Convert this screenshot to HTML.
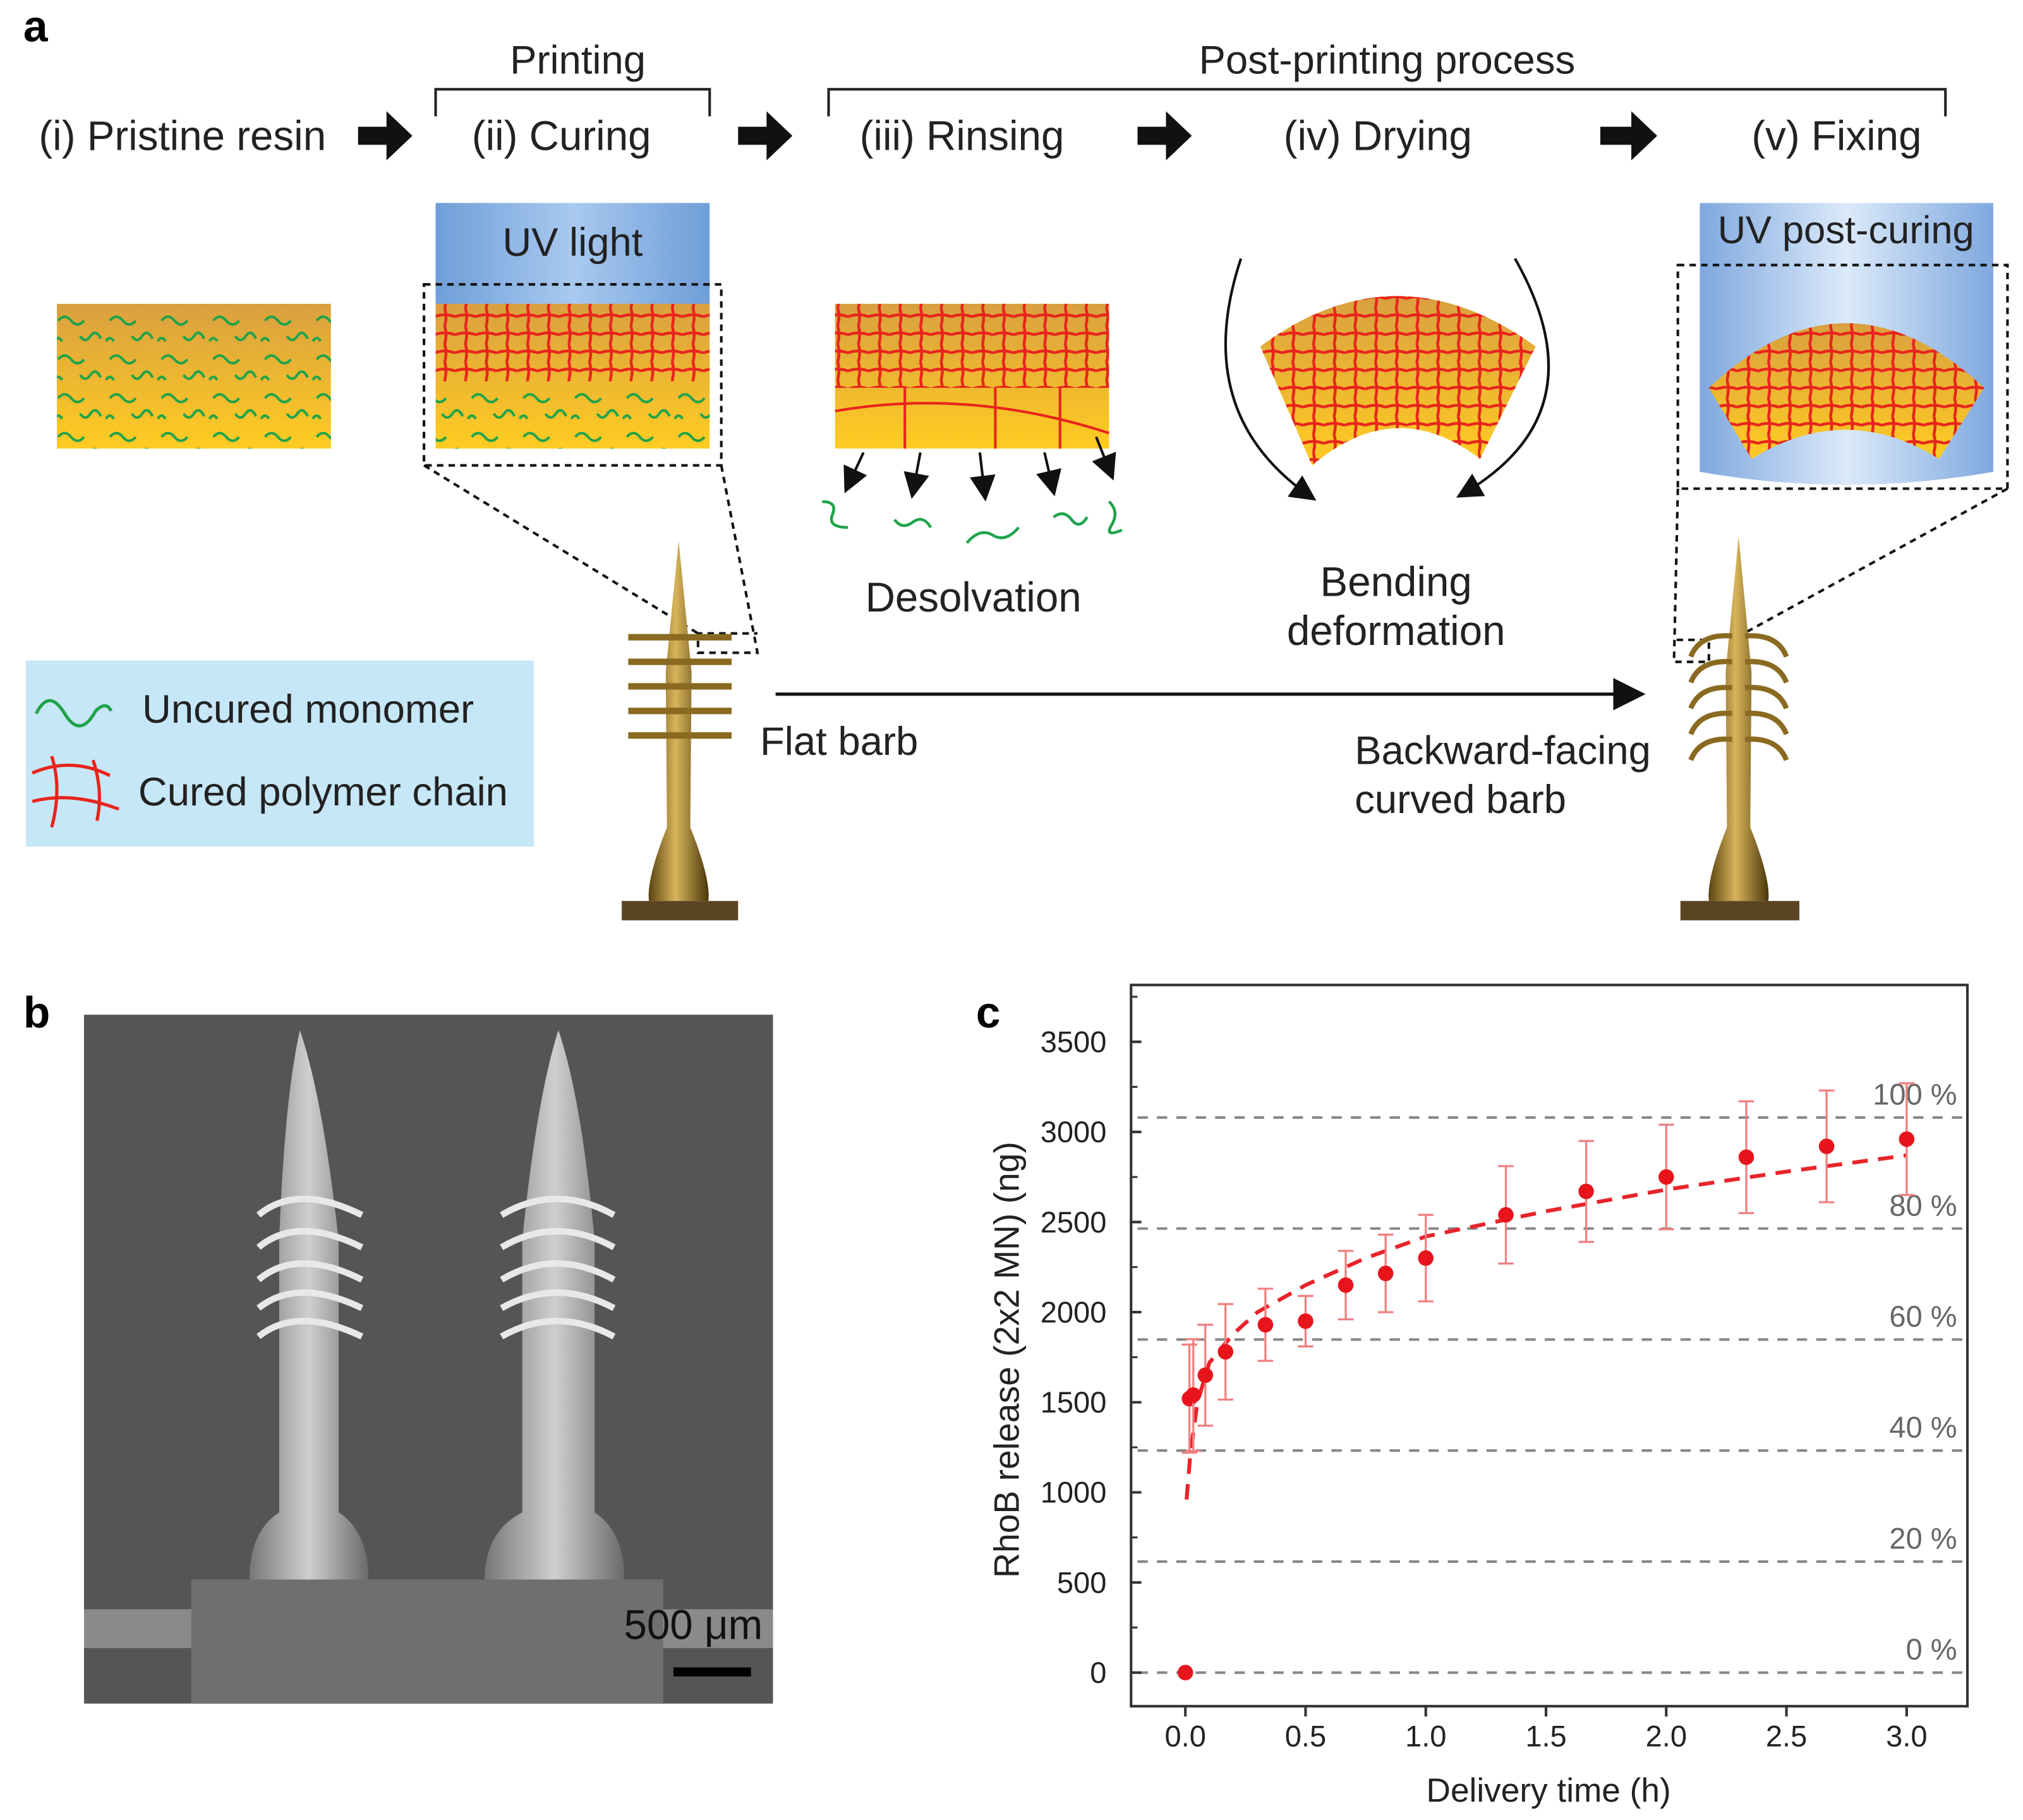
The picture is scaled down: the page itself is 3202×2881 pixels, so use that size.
<!DOCTYPE html>
<html><head><meta charset="utf-8">
<style>
html,body{margin:0;padding:0;background:#fff;}
svg{display:block;font-family:"Liberation Sans",Arial,sans-serif;}
</style></head>
<body>
<svg id="fig" width="3202" height="2881" viewBox="0 0 1565 1408" xmlns="http://www.w3.org/2000/svg">
<defs>
  <linearGradient id="resin" x1="0" y1="0" x2="0" y2="1"><stop offset="0" stop-color="#d9a040"/><stop offset="1" stop-color="#ffcc22"/></linearGradient>
  <linearGradient id="uv" x1="0" y1="0" x2="1" y2="0"><stop offset="0" stop-color="#6f9ed8"/><stop offset="0.5" stop-color="#a9c9ef"/><stop offset="1" stop-color="#6f9ed8"/></linearGradient>
  <linearGradient id="uv2" x1="0" y1="0" x2="1" y2="0"><stop offset="0" stop-color="#7fa8de"/><stop offset="0.5" stop-color="#dbeafa"/><stop offset="1" stop-color="#7fa8de"/></linearGradient>
  <linearGradient id="gold" x1="0" y1="0" x2="1" y2="0"><stop offset="0" stop-color="#5a4410"/><stop offset="0.45" stop-color="#d8b45a"/><stop offset="1" stop-color="#4a360a"/></linearGradient>
  <linearGradient id="sem" x1="0" y1="0" x2="1" y2="0"><stop offset="0" stop-color="#777"/><stop offset="0.5" stop-color="#cfcfcf"/><stop offset="1" stop-color="#6a6a6a"/></linearGradient>
  <pattern id="net" width="16" height="14" patternUnits="userSpaceOnUse"><path d="M0 7 Q8 4 16 7 M8 0 Q10 7 8 14" stroke="#e8241c" stroke-width="2.2" fill="none"/></pattern>
  <pattern id="mono" width="40" height="30" patternUnits="userSpaceOnUse"><path d="M5 8 q5 -6 10 0 t10 0 M22 20 q4 6 8 0 t8 2 M2 24 q3 -5 6 0" stroke="#1fa34a" stroke-width="2" fill="none"/></pattern>
  <marker id="ah" markerWidth="10" markerHeight="10" refX="8" refY="5" orient="auto"><path d="M0 0 L10 5 L0 10 z" fill="#111"/></marker>
</defs>

<!-- PANEL A -->
<g>
<text x="18" y="32" font-size="34" font-weight="bold">a</text>
<text x="447" y="57" font-size="31" text-anchor="middle" fill="#222">Printing</text>
<path d="M337 90 V69 H549 V90" stroke="#222" stroke-width="2" fill="none"/>
<text x="1073" y="57" font-size="31" text-anchor="middle" fill="#222">Post-printing process</text>
<path d="M641 90 V69 H1505 V90" stroke="#222" stroke-width="2" fill="none"/>
<g font-size="32" fill="#222">
<text x="30" y="116">(i) Pristine resin</text>
<text x="365" y="116">(ii) Curing</text>
<text x="665" y="116">(iii) Rinsing</text>
<text x="993" y="116">(iv) Drying</text>
<text x="1355" y="116">(v) Fixing</text>
</g>
<g fill="#111">
<path d="M277 98 h22 v-12 l20 19 l-20 19 v-12 h-22z"/>
<path d="M571 98 h22 v-12 l20 19 l-20 19 v-12 h-22z"/>
<path d="M880 98 h22 v-12 l20 19 l-20 19 v-12 h-22z"/>
<path d="M1238 98 h24 v-12 l20 19 l-20 19 v-12 h-24z"/>
</g>
<rect x="44" y="235" width="212" height="112" fill="url(#resin)"/>
<rect x="44" y="235" width="212" height="112" fill="url(#mono)"/>
<rect x="337" y="157" width="212" height="80" fill="url(#uv)"/>
<text x="443" y="198" font-size="31" text-anchor="middle" fill="#222">UV light</text>
<rect x="337" y="235" width="212" height="112" fill="url(#resin)"/>
<rect x="337" y="235" width="212" height="60" fill="url(#net)"/>
<rect x="337" y="295" width="212" height="52" fill="url(#mono)"/>
<rect x="328" y="220" width="230" height="140" fill="none" stroke="#111" stroke-width="2" stroke-dasharray="5 4"/>
<path d="M328 360 L540 490 M558 360 L586 505 L540 505 L540 490 L586 490" stroke="#111" stroke-width="2" stroke-dasharray="5 4" fill="none"/>
<rect x="646" y="235" width="212" height="112" fill="url(#resin)"/>
<rect x="646" y="235" width="212" height="65" fill="url(#net)"/>
<path d="M646 318 Q750 300 858 335 M700 300 V347 M770 300 V347 M820 300 V347" stroke="#e8241c" stroke-width="2" fill="none"/>
<g stroke="#111" stroke-width="2" marker-end="url(#ah)">
<line x1="668" y1="350" x2="655" y2="378"/><line x1="712" y1="350" x2="706" y2="382"/><line x1="758" y1="350" x2="762" y2="384"/><line x1="808" y1="350" x2="815" y2="380"/><line x1="848" y1="338" x2="860" y2="368"/>
</g>
<path d="M636 388 q12 0 8 10 t12 10 M692 402 q6 8 14 2 t14 4 M748 420 q10 -12 20 -6 t20 -6 M815 400 q8 -6 14 2 t12 -2 M858 388 q8 8 2 18 t8 4" stroke="#1fa34a" stroke-width="2.2" fill="none"/>
<text x="753" y="473" font-size="32" text-anchor="middle" fill="#222">Desolvation</text>
<path d="M975 268 Q1080 190 1188 268 L1145 355 Q1080 305 1015 360 Z" fill="url(#resin)"/>
<path d="M975 268 Q1080 190 1188 268 L1145 355 Q1080 305 1015 360 Z" fill="url(#net)"/>
<path d="M960 200 Q920 320 1015 385" stroke="#111" stroke-width="2" fill="none" marker-end="url(#ah)"/>
<path d="M1172 200 Q1240 320 1130 383" stroke="#111" stroke-width="2" fill="none" marker-end="url(#ah)"/>
<text x="1080" y="461" font-size="32" text-anchor="middle" fill="#222">Bending</text>
<text x="1080" y="499" font-size="32" text-anchor="middle" fill="#222">deformation</text>
<path d="M1315 157 H1542 V365 Q1428 385 1315 365 Z" fill="url(#uv2)"/>
<text x="1428" y="188" font-size="30" text-anchor="middle" fill="#222">UV post-curing</text>
<path d="M1322 300 Q1428 200 1535 300 L1500 355 Q1428 310 1355 355 Z" fill="url(#resin)"/>
<path d="M1322 300 Q1428 200 1535 300 L1500 355 Q1428 310 1355 355 Z" fill="url(#net)"/>
<rect x="1298" y="205" width="255" height="173" fill="none" stroke="#111" stroke-width="2" stroke-dasharray="5 4"/>
<path d="M1298 378 L1295 512 L1322 512 L1322 495 L1295 495 M1553 378 L1340 495" stroke="#111" stroke-width="2" stroke-dasharray="5 4" fill="none"/>
<rect x="20" y="511" width="393" height="144" fill="#c6e7f7"/>
<path d="M28 552 q10 -20 22 0 t24 -2 q8 -8 12 0" stroke="#1fa34a" stroke-width="2.5" fill="none"/>
<text x="110" y="559" font-size="31" fill="#222">Uncured monomer</text>
<path d="M25 598 Q55 585 85 600 M25 620 Q55 612 92 626 M40 585 Q48 610 40 640 M72 588 Q80 612 75 635" stroke="#e8241c" stroke-width="2.5" fill="none"/>
<text x="107" y="623" font-size="31" fill="#222">Cured polymer chain</text>
<g>
<path d="M525 418 L535 520 L534 640 Q550 680 548 697 L502 697 Q500 680 516 640 L515 520 Z" fill="url(#gold)"/>
<g stroke="#8a6a20" stroke-width="5">
<line x1="486" y1="493" x2="566" y2="493"/><line x1="486" y1="512" x2="566" y2="512"/><line x1="486" y1="531" x2="566" y2="531"/><line x1="486" y1="550" x2="566" y2="550"/><line x1="486" y1="569" x2="566" y2="569"/>
</g>
<rect x="481" y="697" width="90" height="15" fill="#5a4422"/>
</g>
<line x1="600" y1="537" x2="1268" y2="537" stroke="#111" stroke-width="2.5" marker-end="url(#ah)"/>
<text x="588" y="584" font-size="31" fill="#222">Flat barb</text>
<text x="1048" y="591" font-size="31" fill="#222">Backward-facing</text>
<text x="1048" y="629" font-size="31" fill="#222">curved barb</text>
<g>
<path d="M1345 415 L1355 520 L1354 640 Q1370 680 1368 697 L1322 697 Q1320 680 1336 640 L1335 520 Z" fill="url(#gold)"/>
<g stroke="#8a6a20" stroke-width="4" fill="none">
<path d="M1340 492 Q1315 490 1308 508 M1350 492 Q1375 490 1382 508"/>
<path d="M1340 512 Q1315 510 1308 528 M1350 512 Q1375 510 1382 528"/>
<path d="M1340 532 Q1315 530 1308 548 M1350 532 Q1375 530 1382 548"/>
<path d="M1340 552 Q1315 550 1308 568 M1350 552 Q1375 550 1382 568"/>
<path d="M1340 572 Q1315 570 1308 588 M1350 572 Q1375 570 1382 588"/>
</g>
<rect x="1300" y="697" width="92" height="15" fill="#5a4422"/>
</g>
</g>

<!-- PANEL B -->
<g>
<text x="18" y="795" font-size="34" font-weight="bold">b</text>
<rect x="65" y="785" width="533" height="533" fill="#555555"/>
<rect x="65" y="1245" width="533" height="30" fill="#8a8a8a"/>
<rect x="148" y="1222" width="365" height="96" fill="#6f6f6f"/>
<g>
<path d="M232 797 Q250 850 262 960 L262 1170 Q285 1185 285 1222 L193 1222 Q193 1185 216 1170 L216 960 Q220 850 232 797 Z" fill="url(#sem)"/>
<g stroke="#e8e8e8" stroke-width="5" fill="none"><path d="M200 940 Q230 915 280 940"/><path d="M200 965 Q230 940 280 965"/><path d="M200 990 Q230 965 280 990"/><path d="M200 1012 Q230 988 280 1012"/><path d="M200 1034 Q230 1010 280 1034"/></g>
</g>
<g>
<path d="M432 797 Q450 850 460 960 L460 1170 Q483 1185 483 1222 L375 1222 Q375 1185 404 1170 L404 960 Q415 850 432 797 Z" fill="url(#sem)"/>
<g stroke="#e8e8e8" stroke-width="5" fill="none"><path d="M388 940 Q430 915 475 940"/><path d="M388 965 Q430 940 475 965"/><path d="M388 990 Q430 965 475 990"/><path d="M388 1012 Q430 988 475 1012"/><path d="M388 1034 Q430 1010 475 1034"/></g>
</g>
<text x="590" y="1268" font-size="32" text-anchor="end" fill="#111">500 μm</text>
<rect x="521" y="1290" width="60" height="7" fill="#000"/>
</g>

<!-- PANEL C -->
<g id="panelc">
<text x="755" y="795" font-size="34" font-weight="bold">c</text>
<rect x="875" y="762" width="647" height="558" fill="none" stroke="#333" stroke-width="2"/>
<text transform="translate(788,1052) rotate(-90)" font-size="27" text-anchor="middle" fill="#222">RhoB release (2x2 MN) (ng)</text>
<text x="1198" y="1394" font-size="26" text-anchor="middle" fill="#222">Delivery time (h)</text>
<g id="cg"></g>
</g>
</svg>
<script>
const times = [0, 0.017, 0.033, 0.083, 0.167, 0.333, 0.5, 0.667, 0.833, 1.0, 1.333, 1.667, 2.0, 2.333, 2.667, 3.0];
const release = [0, 1520, 1540, 1650, 1780, 1930, 1950, 2150, 2215, 2300, 2540, 2670, 2750, 2860, 2920, 2960];
const errors = [0, 300, 310, 280, 265, 200, 140, 190, 215, 240, 270, 280, 290, 310, 310, 310];
const fitTimes = [0.005, 0.02, 0.05, 0.1, 0.2, 0.3, 0.5, 0.75, 1.0, 1.5, 2.0, 2.5, 3.0];
const fitValues = [960, 1200, 1500, 1720, 1880, 2000, 2150, 2300, 2420, 2560, 2680, 2780, 2870];
const yTicks = [0, 500, 1000, 1500, 2000, 2500, 3000, 3500];
const xTicks = [0, 0.5, 1.0, 1.5, 2.0, 2.5, 3.0];
const xTickLabels = ["0.0", "0.5", "1.0", "1.5", "2.0", "2.5", "3.0"];
const refLevels = [0, 616, 1232, 1848, 2464, 3080];
const refLabels = ["0 %", "20 %", "40 %", "60 %", "80 %", "100 %"];

const NS = "http://www.w3.org/2000/svg";
const X = t => 917 + t * (1475 - 917) / 3;
const Y = v => 1294 - v * (1294 - 806) / 3500;
const g = document.getElementById("cg");
function mk(tag, attrs) { const e = document.createElementNS(NS, tag); for (const k in attrs) e.setAttribute(k, attrs[k]); g.appendChild(e); return e; }

refLevels.forEach((v, i) => {
  const l = mk("line", {x1: 880, x2: 1518, y1: Y(v), y2: Y(v), stroke: "#888", "stroke-width": 2, "stroke-dasharray": "8 7"});
  
  
  const t = mk("text", {x: 1514, y: Y(v) - 10, "font-size": 23, "text-anchor": "end", fill: "#666"});
  t.textContent = refLabels[i];
  
  
});
yTicks.forEach(v => {
  const tk = mk("line", {x1: 875, x2: 883, y1: Y(v), y2: Y(v), stroke: "#333", "stroke-width": 2});
  
  
  const m = mk("line", {x1: 875, x2: 880, y1: Y(v + 250), y2: Y(v + 250), stroke: "#333", "stroke-width": 1.5});
  
  
  const t = mk("text", {x: 856, y: Y(v) + 8, "font-size": 23, "text-anchor": "end", fill: "#222"});
  t.textContent = v;
  
  
});
xTicks.forEach((v, i) => {
  const tk = mk("line", {x1: X(v), x2: X(v), y1: 1320, y2: 1328, stroke: "#333", "stroke-width": 2});
  
  
  const t = mk("text", {x: X(v), y: 1351, "font-size": 23, "text-anchor": "middle", fill: "#222"});
  t.textContent = xTickLabels[i];
  
  
});
const fit = mk("polyline", {points: fitTimes.map((t, i) => X(t) + "," + Y(fitValues[i])).join(" "), fill: "none", stroke: "#e8242a", "stroke-width": 3, "stroke-dasharray": "12 8"});


times.forEach((t, i) => {
  if (errors[i] > 0) {
    const x = X(t), y1 = Y(release[i] - errors[i]), y2 = Y(release[i] + errors[i]);
    const e = mk("path", {d: `M${x} ${y1} V${y2} M${x-6} ${y1} H${x+6} M${x-6} ${y2} H${x+6}`, stroke: "#f08080", "stroke-width": 1.6, fill: "none"});
    
    
  }
  const c = mk("circle", {cx: X(t), cy: Y(release[i]), r: 6, fill: "#e8141c"});
  
  
});
</script>
</body></html>
